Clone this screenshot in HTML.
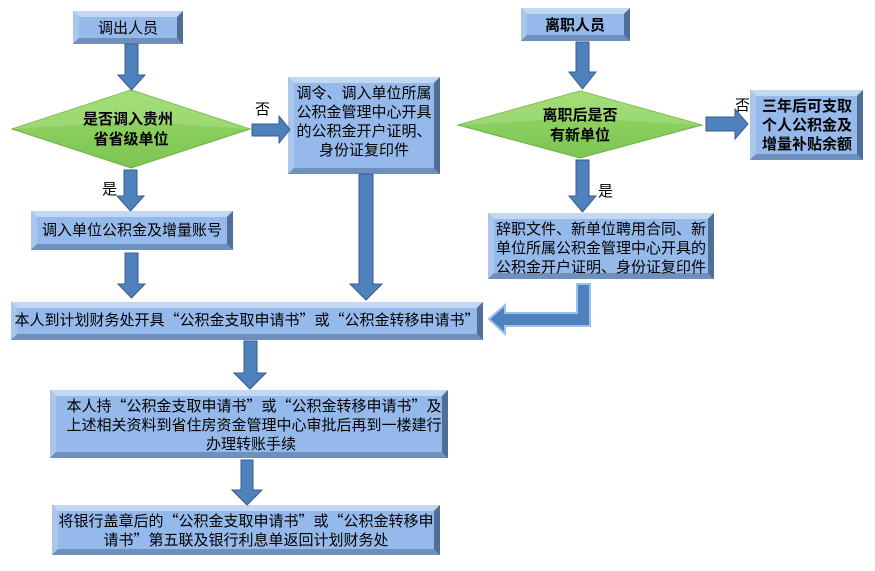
<!DOCTYPE html>
<html><head><meta charset="utf-8"><style>
html,body{margin:0;padding:0;background:#fff;}
svg{display:block}
text{font-family:"Noto Sans CJK SC","WenQuanYi Zen Hei","Liberation Sans",sans-serif;font-size:15px;fill:#000;}
.b{font-weight:bold}
</style></head><body>
<svg width="875" height="571" viewBox="0 0 875 571" xmlns="http://www.w3.org/2000/svg">
<defs>
<linearGradient id="dg" x1="0" y1="0" x2="0" y2="1">
<stop offset="0" stop-color="#9ad86a"/><stop offset="1" stop-color="#7cc552"/></linearGradient>
</defs>
<g stroke="none">
<rect x="73" y="11" width="110" height="33" fill="#5e7fab"/>
<polygon points="73,11 183,11 177,17 79,17" fill="#c3d7f2"/>
<polygon points="73,11 79,17 79,38 73,44" fill="#aac6ec"/>
<polygon points="73,44 79,38 177,38 183,44" fill="#6f8fbd"/>
<polygon points="183,11 177,17 177,38 183,44" fill="#4f6e98"/>
<rect x="79" y="17" width="98" height="21" fill="#95b9ea"/>

<rect x="288" y="77" width="152" height="97" fill="#5e7fab"/>
<polygon points="288,77 440,77 434,83 294,83" fill="#c3d7f2"/>
<polygon points="288,77 294,83 294,168 288,174" fill="#aac6ec"/>
<polygon points="288,174 294,168 434,168 440,174" fill="#6f8fbd"/>
<polygon points="440,77 434,83 434,168 440,174" fill="#4f6e98"/>
<rect x="294" y="83" width="140" height="85" fill="#95b9ea"/>

<rect x="31" y="211" width="202" height="39" fill="#5e7fab"/>
<polygon points="31,211 233,211 227,217 37,217" fill="#c3d7f2"/>
<polygon points="31,211 37,217 37,244 31,250" fill="#aac6ec"/>
<polygon points="31,250 37,244 227,244 233,250" fill="#6f8fbd"/>
<polygon points="233,211 227,217 227,244 233,250" fill="#4f6e98"/>
<rect x="37" y="217" width="190" height="27" fill="#95b9ea"/>

<rect x="11" y="302" width="472" height="38" fill="#5e7fab"/>
<polygon points="11,302 483,302 477,308 17,308" fill="#c3d7f2"/>
<polygon points="11,302 17,308 17,334 11,340" fill="#aac6ec"/>
<polygon points="11,340 17,334 477,334 483,340" fill="#6f8fbd"/>
<polygon points="483,302 477,308 477,334 483,340" fill="#4f6e98"/>
<rect x="17" y="308" width="460" height="26" fill="#95b9ea"/>

<rect x="50" y="390" width="398" height="68" fill="#5e7fab"/>
<polygon points="50,390 448,390 442,396 56,396" fill="#c3d7f2"/>
<polygon points="50,390 56,396 56,452 50,458" fill="#aac6ec"/>
<polygon points="50,458 56,452 442,452 448,458" fill="#6f8fbd"/>
<polygon points="448,390 442,396 442,452 448,458" fill="#4f6e98"/>
<rect x="56" y="396" width="386" height="56" fill="#95b9ea"/>

<rect x="52" y="505" width="388" height="50" fill="#5e7fab"/>
<polygon points="52,505 440,505 434,511 58,511" fill="#c3d7f2"/>
<polygon points="52,505 58,511 58,549 52,555" fill="#aac6ec"/>
<polygon points="52,555 58,549 434,549 440,555" fill="#6f8fbd"/>
<polygon points="440,505 434,511 434,549 440,555" fill="#4f6e98"/>
<rect x="58" y="511" width="376" height="38" fill="#95b9ea"/>

<rect x="521" y="8" width="109" height="33" fill="#5e7fab"/>
<polygon points="521,8 630,8 624,14 527,14" fill="#c3d7f2"/>
<polygon points="521,8 527,14 527,35 521,41" fill="#aac6ec"/>
<polygon points="521,41 527,35 624,35 630,41" fill="#6f8fbd"/>
<polygon points="630,8 624,14 624,35 630,41" fill="#4f6e98"/>
<rect x="527" y="14" width="97" height="21" fill="#95b9ea"/>

<rect x="750" y="90" width="113" height="70" fill="#5e7fab"/>
<polygon points="750,90 863,90 857,96 756,96" fill="#c3d7f2"/>
<polygon points="750,90 756,96 756,154 750,160" fill="#aac6ec"/>
<polygon points="750,160 756,154 857,154 863,160" fill="#6f8fbd"/>
<polygon points="863,90 857,96 857,154 863,160" fill="#4f6e98"/>
<rect x="756" y="96" width="101" height="58" fill="#95b9ea"/>

<rect x="488" y="213" width="226" height="66" fill="#5e7fab"/>
<polygon points="488,213 714,213 708,219 494,219" fill="#c3d7f2"/>
<polygon points="488,213 494,219 494,273 488,279" fill="#aac6ec"/>
<polygon points="488,279 494,273 708,273 714,279" fill="#6f8fbd"/>
<polygon points="714,213 708,219 708,273 714,279" fill="#4f6e98"/>
<rect x="494" y="219" width="214" height="54" fill="#95b9ea"/>
</g>

<polygon points="131,90 250,129 131,168 12,129" fill="url(#dg)" stroke="#6bb040" stroke-width="1"/>
<polygon points="131,90 250,129 131,121 12,129" fill="#a8df80" opacity="0.6"/>
<polygon points="580,91 702,125 580,158 458,125" fill="url(#dg)" stroke="#6bb040" stroke-width="1"/>
<polygon points="580,91 702,125 580,118 458,125" fill="#a8df80" opacity="0.6"/>

<g fill="#4f81bd" stroke="#385d8a" stroke-width="1">
<polygon points="125,44 138,44 138,75 145,75 131.5,90 118,75 125,75"/>
<polygon points="576,42 589,42 589,72 596,72 582.5,89 569,72 576,72"/>
<polygon points="124,170 137,170 137,196 144,196 130.5,211 117,196 124,196"/>
<polygon points="576,160 589,160 589,196 596,196 582.5,212 569,196 576,196"/>
<polygon points="125,253 138,253 138,284 145,284 131.5,298 118,284 125,284"/>
<polygon points="359,174 373,174 373,284 382,284 366,300 350,284 359,284"/>
<polygon points="244,341 257,341 257,373 266,373 250,389 234,373 244,373"/>
<polygon points="241,460 253,460 253,490 262,490 247,505 232,490 241,490"/>
<polygon points="252,124 279,124 279,116 290,129.5 279,143 279,136 252,136"/>
<polygon points="706,117 735,117 735,109 748,124 735,139 735,131 706,131"/>
</g>
<polygon points="577,284 590,284 590,326 505,326 505,334 489,319 505,305 505,313 577,313" fill="#4f81bd" stroke="#9cc0ec" stroke-width="2"/>

<text x="255" y="114" font-size="14">否</text>
<text x="735" y="110" font-size="14">否</text>
<text x="102" y="194" font-size="14">是</text>
<text x="598" y="196" font-size="14">是</text>

<text class="b" x="128" y="124" text-anchor="middle">是否调入贵州</text>
<text class="b" x="131" y="144" text-anchor="middle">省省级单位</text>
<text class="b" x="580" y="120" text-anchor="middle">离职后是否</text>
<text class="b" x="580" y="140" text-anchor="middle">有新单位</text>

<text x="128" y="33" text-anchor="middle">调出人员</text>
<text class="b" x="575" y="30" text-anchor="middle">离职人员</text>
<text x="364" y="98" text-anchor="middle">调令、调入单位所属</text>
<text x="364" y="117" text-anchor="middle">公积金管理中心开具</text>
<text x="364" y="136" text-anchor="middle">的公积金开户证明、</text>
<text x="364" y="155" text-anchor="middle">身份证复印件</text>
<text x="132" y="235" text-anchor="middle">调入单位公积金及增量账号</text>
<text class="b" x="807" y="111" text-anchor="middle">三年后可支取</text>
<text class="b" x="807" y="130" text-anchor="middle">个人公积金及</text>
<text class="b" x="807" y="149" text-anchor="middle">增量补贴余额</text>
<text x="601" y="234" text-anchor="middle">辞职文件、新单位聘用合同、新</text>
<text x="601" y="253" text-anchor="middle">单位所属公积金管理中心开具的</text>
<text x="601" y="272" text-anchor="middle">公积金开户证明、身份证复印件</text>
<text x="247" y="325" text-anchor="middle">本人到计划财务处开具“公积金支取申请书”或“公积金转移申请书”</text>
<text x="254" y="411" text-anchor="middle">本人持“公积金支取申请书”或“公积金转移申请书”及</text>
<text x="254" y="430" text-anchor="middle">上述相关资料到省住房资金管理中心审批后再到一楼建行</text>
<text x="251" y="449" text-anchor="middle">办理转账手续</text>
<text x="246" y="526" text-anchor="middle">将银行盖章后的“公积金支取申请书”或“公积金转移申</text>
<text x="246" y="545" text-anchor="middle">请书”第五联及银行利息单返回计划财务处</text>
</svg>
</body></html>
